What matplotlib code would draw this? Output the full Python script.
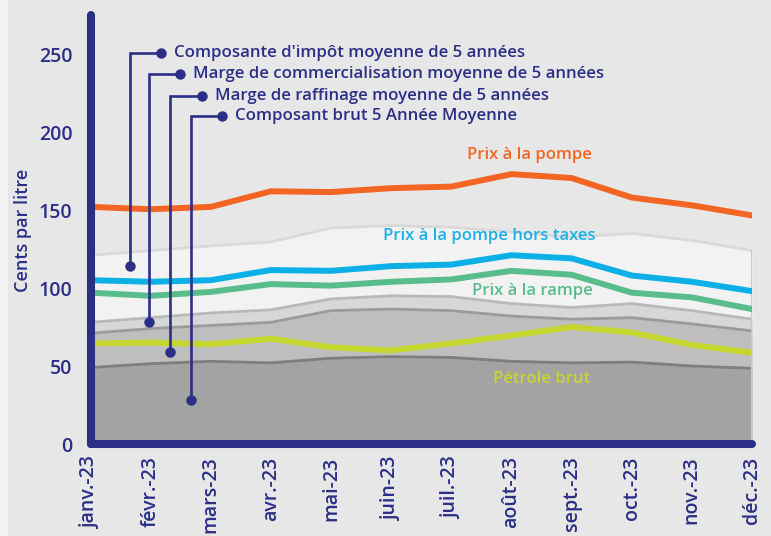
import numpy as np
import matplotlib.pyplot as plt
from matplotlib.patches import Rectangle

# mois
mois = ['janv.-23', 'févr.-23', 'mars-23', 'avr.-23', 'mai-23', 'juin-23',
        'juil.-23', 'août-23', 'sept.-23', 'oct.-23', 'nov.-23', 'déc.-23']

# composantes moyennes de 5 ans (empilees)
brut_5ans = [49, 51.5, 53, 52, 55, 56, 55.5, 53, 52, 52.5, 50, 48.5]
raffinage_5ans = [22, 22.5, 23, 26, 30.5, 30.5, 30, 29, 28, 28.5, 27, 24]
commerc_5ans = [7, 7, 8, 8, 7.5, 8.5, 9, 8, 7.5, 9, 8.5, 7.5]
impot_5ans = [43, 43, 43, 43.5, 45.5, 45, 44.5, 46, 45, 45, 45, 44]

# prix 2023
prix_pompe = [152, 150.5, 152, 162, 161.5, 164, 165, 173, 170.5, 158, 153, 146.5]
prix_hors_taxes = [105, 104, 105, 111.5, 111, 114, 115, 121, 119, 108, 104, 98]
prix_rampe = [97, 95, 97.5, 102.5, 101.5, 104, 105.5, 111, 108.5, 97, 94, 86.5]
petrole_brut = [64.5, 65, 64, 67.5, 62, 60, 64.5, 69.5, 75, 71.5, 63.5, 58.5]

# legendes des bandes : (texte, x ligne, y haut, y point bas)
legendes = [
    ("Composante d'impôt moyenne de 5 années", 0.65, 250.8, 114.3),
    ("Marge de commercialisation moyenne de 5 années", 0.965, 237.2, 78.4),
    ("Marge de raffinage moyenne de 5 années", 1.326, 223, 59.2),
    ("Composant brut 5 Année Moyenne", 1.664, 210.3, 28.2),
]

marine = '#2b2f86'
fond = '#e7e7e7'
plt.rcParams['font.family'] = ['Open Sans', 'DejaVu Sans']

fig = plt.figure(figsize=(7.71, 5.36), dpi=100, facecolor=fond)
fig.patches.append(Rectangle((0, 0), 8 / 771, 1, transform=fig.transFigure,
                             facecolor='#f4f4f4', edgecolor='none', zorder=0))
ax = fig.add_axes([90.5 / 771, 1 - 444 / 536, (752 - 90.5) / 771, (444 - 15) / 536])
ax.set_facecolor(fond)

x = np.arange(len(mois))
couches = np.cumsum([brut_5ans, raffinage_5ans, commerc_5ans, impot_5ans], axis=0)
remplis = ['#a3a3a3', '#bebebe', '#d7d7d7', '#f2f2f2']
bords = ['#7e7e7e', '#9b9b9b', '#b9b9b9', '#d9d9d9']
bas = np.zeros(len(mois))
for haut, c, b in zip(couches, remplis, bords):
    ax.fill_between(x, bas, haut, color=c, lw=0, zorder=1)
    ax.plot(x, haut, color=b, lw=2, zorder=2)
    bas = haut
ax.plot([x[-1], x[-1]], [0, couches[-1][-1]], color='#c8c8c8', lw=1.5, zorder=2)

ax.plot(x, petrole_brut, color='#c5d52f', lw=4.3, zorder=3)
ax.plot(x, prix_rampe, color='#59bd8b', lw=4.3, zorder=3)
ax.plot(x, prix_hors_taxes, color='#0cb0e6', lw=4.3, zorder=3)
ax.plot(x, prix_pompe, color='#f26522', lw=4.3, zorder=3)

tf = dict(fontsize=12, fontweight='semibold', ha='center', va='center', zorder=4)
ax.text(7.30, 185.3, 'Prix à la pompe', color='#f26522', **tf)
ax.text(6.64, 133.3, 'Prix à la pompe hors taxes', color='#1ab0e8', **tf)
ax.text(7.35, 98, 'Prix à la rampe', color='#59bd8b', **tf)
ax.text(7.50, 41.7, 'Pétrole brut', color='#c8d42f', **tf)

for texte, xl, yh, yb in legendes:
    xd = xl + 0.52
    ax.plot([xd, xl, xl], [yh, yh, yb], color=marine, lw=1.9, zorder=5,
            solid_joinstyle='miter', clip_on=False)
    ax.plot([xd, xl], [yh, yb], 'o', color=marine, ms=6.5, zorder=6, clip_on=False)
    ax.annotate(texte, (xd, yh), xytext=(9.5, 0), textcoords='offset points',
                fontsize=12.1, fontweight='semibold', color=marine, va='center',
                annotation_clip=False)

ax.set_xlim(0, 11)
ax.set_ylim(0, 275)
ax.set_xticks(x)
ax.set_xticklabels(mois, rotation=90, fontsize=14, color=marine)
ax.set_yticks([0, 50, 100, 150, 200, 250])
ax.tick_params(axis='y', length=0, pad=13, labelsize=14, labelcolor=marine)
ax.tick_params(axis='x', length=0, pad=9)
for t in ax.get_xticklabels() + ax.get_yticklabels():
    t.set_fontweight('semibold')
ax.set_ylabel('Cents par litre', fontsize=13, fontweight='semibold', color=marine)
ax.yaxis.set_label_coords(-58.5 / 661.5, (444 - 230) / 429)

for s in ['top', 'right']:
    ax.spines[s].set_visible(False)
for s in ['left', 'bottom']:
    ax.spines[s].set_linewidth(5.8)
    ax.spines[s].set_color(marine)
    ax.spines[s].set_capstyle('round')
    ax.spines[s].set_zorder(7)

fig.savefig('out.png', dpi=100, facecolor=fond)
